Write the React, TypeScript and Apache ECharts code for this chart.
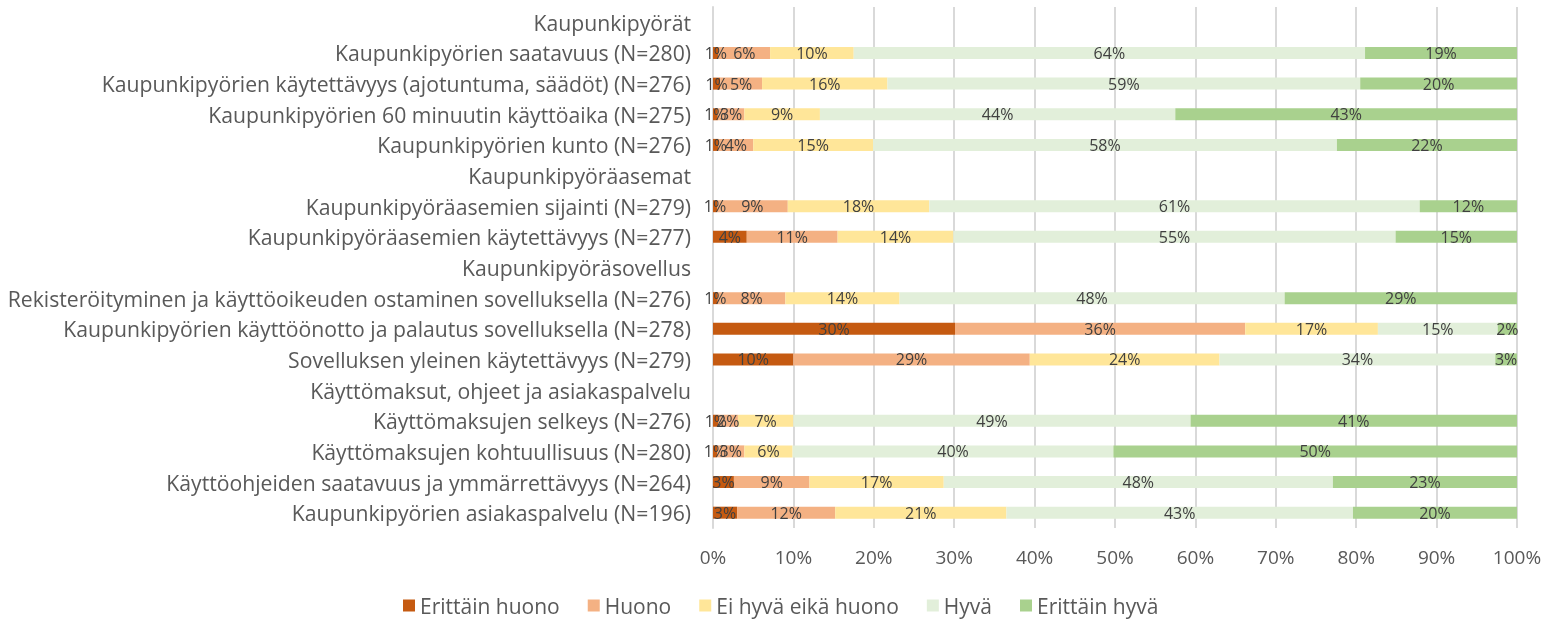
import React, { useEffect, useRef } from "react";
import * as echarts from "echarts";

const categories = [
  "Kaupunkipyörät",
  "Kaupunkipyörien saatavuus (N=280)",
  "Kaupunkipyörien käytettävyys (ajotuntuma, säädöt) (N=276)",
  "Kaupunkipyörien 60 minuutin käyttöaika (N=275)",
  "Kaupunkipyörien kunto (N=276)",
  "Kaupunkipyöräasemat",
  "Kaupunkipyöräasemien sijainti (N=279)",
  "Kaupunkipyöräasemien käytettävyys (N=277)",
  "Kaupunkipyöräsovellus",
  "Rekisteröityminen ja käyttöoikeuden ostaminen sovelluksella (N=276)",
  "Kaupunkipyörien käyttöönotto ja palautus sovelluksella (N=278)",
  "Sovelluksen yleinen käytettävyys (N=279)",
  "Käyttömaksut, ohjeet ja asiakaspalvelu",
  "Käyttömaksujen selkeys (N=276)",
  "Käyttömaksujen kohtuullisuus (N=280)",
  "Käyttöohjeiden saatavuus ja ymmärrettävyys (N=264)",
  "Kaupunkipyörien asiakaspalvelu (N=196)",
];

const seriesNames = ["Erittäin huono", "Huono", "Ei hyvä eikä huono", "Hyvä", "Erittäin hyvä"];

const erittainHuono = [null, 0.7, 0.9, 0.6, 0.7, null, 0.5, 4.2, null, 0.6, 30.1, 10.0, null, 0.7, 0.5, 2.6, 3.0];
const huono = [null, 6.4, 5.2, 3.3, 4.3, null, 8.8, 11.3, null, 8.4, 36.1, 29.4, null, 2.4, 3.4, 9.4, 12.2];
const eiHyvaEikaHuono = [null, 10.4, 15.6, 9.4, 14.9, null, 17.6, 14.4, null, 14.2, 16.5, 23.6, null, 6.9, 6.0, 16.7, 21.3];
const hyva = [null, 63.6, 58.8, 44.2, 57.7, null, 61.0, 55.0, null, 47.9, 14.9, 34.3, null, 49.4, 39.9, 48.4, 43.1];
const erittainHyva = [null, 18.9, 19.5, 42.5, 22.4, null, 12.1, 15.1, null, 28.9, 2.4, 2.7, null, 40.6, 50.2, 22.9, 20.4];

const xTicks = [0, 10, 20, 30, 40, 50, 60, 70, 80, 90, 100];

const colors = ["#C55A11", "#F4B183", "#FFE699", "#E2EFDA", "#A9D18E"];

export default function App() {
  const ref = useRef<HTMLDivElement>(null);
  useEffect(() => {
    if (!ref.current) return;
    const chart = echarts.init(ref.current, undefined, { renderer: "svg" });
    const allData = [erittainHuono, huono, eiHyvaEikaHuono, hyva, erittainHyva];
    const font = "'Open Sans', sans-serif";
    chart.setOption({
      animation: false,
      color: colors,
      textStyle: { fontFamily: font },
      grid: { left: 713, right: 28, top: 7, bottom: 93, containLabel: false },
      legend: {
        bottom: 0,
        left: 398,
        itemWidth: 12,
        itemHeight: 12,
        itemGap: 28,
        icon: "rect",
        textStyle: { color: "#595959", fontSize: 21, fontFamily: font },
        data: seriesNames,
      },
      xAxis: {
        type: "value",
        min: xTicks[0],
        max: xTicks[xTicks.length - 1],
        interval: 10,
        axisLabel: {
          color: "#595959",
          fontSize: 19,
          margin: 19,
          formatter: (v: number) => `${v}%`,
        },
        axisLine: { show: false },
        axisTick: { show: false },
        splitLine: { show: true, lineStyle: { color: "#D9D9D9", width: 2 } },
      },
      yAxis: {
        type: "category",
        inverse: true,
        data: categories,
        axisLine: { show: true, lineStyle: { color: "#D9D9D9", width: 2 } },
        axisTick: { show: false },
        axisLabel: { color: "#595959", fontSize: 21.2, margin: 22 },
      },
      series: seriesNames.map((name, i) => ({
        name,
        type: "bar",
        stack: "total",
        barWidth: 12,
        data: allData[i],
        label: {
          show: true,
          position: "inside",
          color: "#404040",
          fontSize: 16,
          fontFamily: font,
          formatter: (p: any) => (p.value == null ? "" : `${Math.round(p.value)}%`),
        },
      })),
    });
    return () => chart.dispose();
  }, []);
  return (
    <div
      ref={ref}
      style={{ position: "fixed", left: 0, top: 0, width: 1545, height: 621 }}
    />
  );
}
